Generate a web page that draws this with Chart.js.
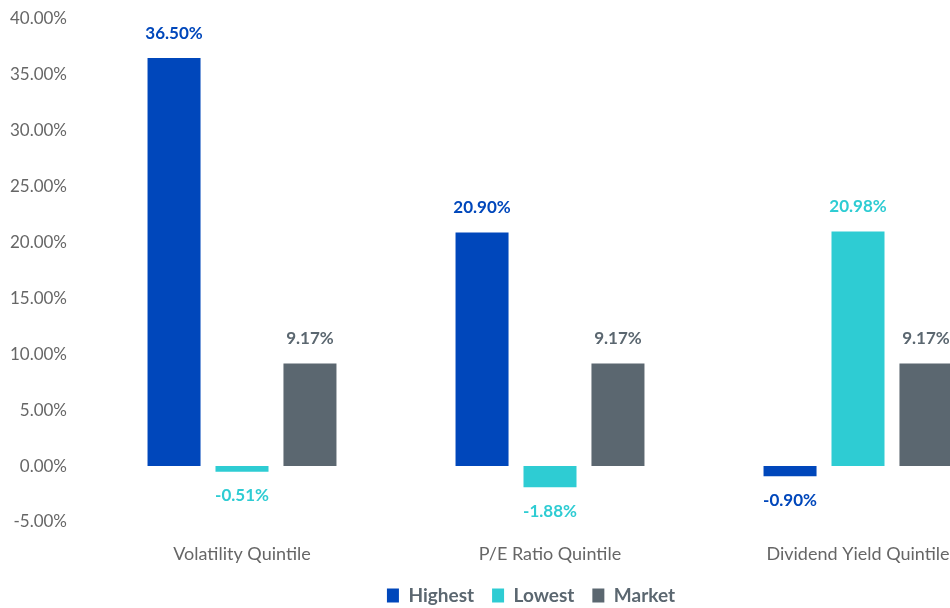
<!DOCTYPE html>
<html>
<head>
<meta charset="utf-8">
<script src="https://cdn.jsdelivr.net/npm/chart.js@4/dist/chart.umd.min.js"></script>
<style>
html,body{margin:0;padding:0;background:#fff;overflow:hidden;}
#wrap{position:relative;width:1062px;height:608px;}
</style>
</head>
<body>
<div id="wrap"><canvas id="c" width="1062" height="608"></canvas></div>
<script>
const categories = ["Volatility Quintile", "P/E Ratio Quintile", "Dividend Yield Quintile"];
const seriesNames = ["Highest", "Lowest", "Market"];
const highest = [36.50, 20.90, -0.90];
const lowest = [-0.51, -1.88, 20.98];
const market = [9.17, 9.17, 9.17];
const yTicks = [-5, 0, 5, 10, 15, 20, 25, 30, 35, 40];
const colors = ["#0047BB", "#2ECCD3", "#5B6770"];

const FONT = "Lato, 'Open Sans', sans-serif";

const labelPlugin = {
  id: 'valueLabels',
  afterDatasetsDraw(chart) {
    const ctx = chart.ctx;
    ctx.save();
    ctx.font = "bold 17px " + FONT;
    ctx.textAlign = 'center';
    ctx.textBaseline = 'middle';
    chart.data.datasets.forEach((ds, i) => {
      const meta = chart.getDatasetMeta(i);
      meta.data.forEach((bar, j) => {
        const v = ds.data[j];
        ctx.fillStyle = colors[i];
        const y = v >= 0 ? bar.y - 25 : bar.y + 24;
        ctx.fillText(v.toFixed(2) + '%', bar.x, y);
      });
    });
    ctx.restore();
  }
};

const LEGEND_H = 43, LEGEND_DX = 25, LEGEND_DY = 3;
const legendShift = {
  id: 'legendShift',
  afterInit(chart) {
    const lg = chart.legend;
    if (!lg || lg._patched) return;
    const orig = lg.fit;
    lg.fit = function () { orig.call(this); this.height = LEGEND_H; };
    lg._patched = true;
  },
  afterLayout(chart) {
    const lg = chart.legend;
    if (!lg) return;
    lg.left += LEGEND_DX; lg.right += LEGEND_DX; lg.top += LEGEND_DY; lg.bottom += LEGEND_DY;
  }
};

new Chart(document.getElementById('c'), {
  type: 'bar',
  data: {
    labels: categories,
    datasets: [
      { label: seriesNames[0], data: highest, backgroundColor: colors[0] },
      { label: seriesNames[1], data: lowest, backgroundColor: colors[1] },
      { label: seriesNames[2], data: market, backgroundColor: colors[2] }
    ]
  },
  options: {
    responsive: false,
    animation: false,
    layout: { padding: { left: 0, right: 50, top: 0, bottom: 0 } },
    datasets: { bar: { categoryPercentage: 0.662, barPercentage: 0.78 } },
    scales: {
      x: {
        grid: { display: false, drawTicks: false },
        border: { display: false },
        afterFit(scale) { scale.height = 43; },
        ticks: { color: '#666', font: { family: FONT, size: 18 }, padding: 21, maxRotation: 0, autoSkip: false }
      },
      y: {
        min: -5, max: 40,
        afterBuildTicks(scale) { scale.ticks = yTicks.map(v => ({ value: v })); },
        afterFit(scale) { scale.width = 88; scale.paddingTop = 19; scale.paddingBottom = 0; },
        grid: { display: false, drawTicks: false },
        border: { display: false },
        ticks: {
          color: '#666',
          font: { family: FONT, size: 17 },
          padding: 21,
          callback: v => v.toFixed(2) + '%'
        }
      }
    },
    plugins: {
      legend: {
        position: 'bottom',
        labels: {
          boxWidth: 12, boxHeight: 14,
          color: '#5B6770',
          font: { family: FONT, size: 19, weight: 'bold' },
          padding: 18
        }
      },
      tooltip: { enabled: false }
    }
  },
  plugins: [labelPlugin, legendShift]
});
</script>
</body>
</html>
